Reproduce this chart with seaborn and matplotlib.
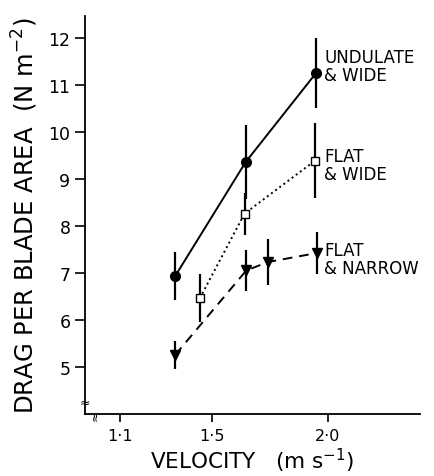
import numpy as np
import pandas as pd
import matplotlib
matplotlib.use("Agg")
import matplotlib.pyplot as plt
import seaborn as sns

# Data
und_x = [1.34, 1.645, 1.95]
und_y = [6.93, 9.36, 11.26]
und_err = [0.51, 0.78, 0.75]

fw_x = [1.447, 1.64, 1.945]
fw_y = [6.46, 8.26, 9.39]
fw_err = [0.51, 0.45, 0.80]

fn_x = [1.34, 1.648, 1.742, 1.952]
fn_y = [5.25, 7.05, 7.23, 7.42]
fn_err = [0.30, 0.44, 0.48, 0.44]

series_labels = ["UNDULATE\n& WIDE", "FLAT\n& WIDE", "FLAT\n& NARROW"]
label_y = [11.4, 9.3, 7.3]

x_ticks = [1.1, 1.5, 2.0]
x_ticklabels = ["1·1", "1·5", "2·0"]
y_ticks = [5, 6, 7, 8, 9, 10, 11, 12]

sns.set_style("ticks")
plt.rcParams['font.family'] = ['DejaVu Sans']
plt.rcParams['text.color'] = 'black'
plt.rcParams['axes.labelcolor'] = 'black'
plt.rcParams['xtick.color'] = 'black'
plt.rcParams['ytick.color'] = 'black'

fig = plt.figure(figsize=(4.34, 4.77), dpi=100)
ax = fig.add_axes([0.196, 0.129, 0.772, 0.836])

series = [
    (und_x, und_y, und_err, "o", "-", "black", 7, (None)),
    (fw_x, fw_y, fw_err, "s", ":", "white", 6, None),
    (fn_x, fn_y, fn_err, "v", "--", "black", 7.5, None),
]

for (xs, ys, es, mk, ls, fc, ms, _) in series:
    df = pd.DataFrame({"x": xs, "y": ys})
    ax.errorbar(xs, ys, yerr=es, fmt="none", ecolor="black", elinewidth=1.6, capsize=0, zorder=2)
    line = sns.lineplot(data=df, x="x", y="y", ax=ax, color="black", linewidth=1.4,
                        linestyle=ls, marker=mk, markersize=ms, markerfacecolor=fc,
                        markeredgecolor="black", markeredgewidth=1.0, zorder=3, sort=False)

# longer dashes for flat & narrow line
ax.lines[-1].set_dashes([5, 3.5])

for lab, ly in zip(series_labels, label_y):
    ax.text(1.985, ly, lab, fontsize=12, va="center", ha="left", linespacing=1.0)

ax.set_xlim(0.95, 2.40)
ax.set_ylim(3.98, 12.48)
ax.set_xticks(x_ticks)
ax.set_xticklabels(x_ticklabels, fontsize=11.5)
ax.set_yticks(y_ticks)
ax.set_yticklabels([str(v) for v in y_ticks], fontsize=12.5)
ax.tick_params(axis="both", direction="out", length=6, width=1.2, colors="black")
ax.tick_params(axis="y", length=7)
for s in ["top", "right"]:
    ax.spines[s].set_visible(False)
for s in ["left", "bottom"]:
    ax.spines[s].set_linewidth(1.3)
    ax.spines[s].set_color("black")

ax.set_xlabel(r"VELOCITY   (m s$^{\mathregular{-1}}$)", fontsize=15.5, labelpad=2)
ax.set_ylabel(r"DRAG PER BLADE AREA  (N m$^{\mathregular{-2}}$)", fontsize=17.5, labelpad=6)

# axis break marks
ax.text(0.0, 0.03, "≈", transform=ax.transAxes, fontsize=9, ha="center", va="center")
ax.text(0.03, 0.0, "≈", transform=ax.transAxes, fontsize=9, ha="center", va="center", rotation=90)

fig.savefig("out.png", dpi=100)
